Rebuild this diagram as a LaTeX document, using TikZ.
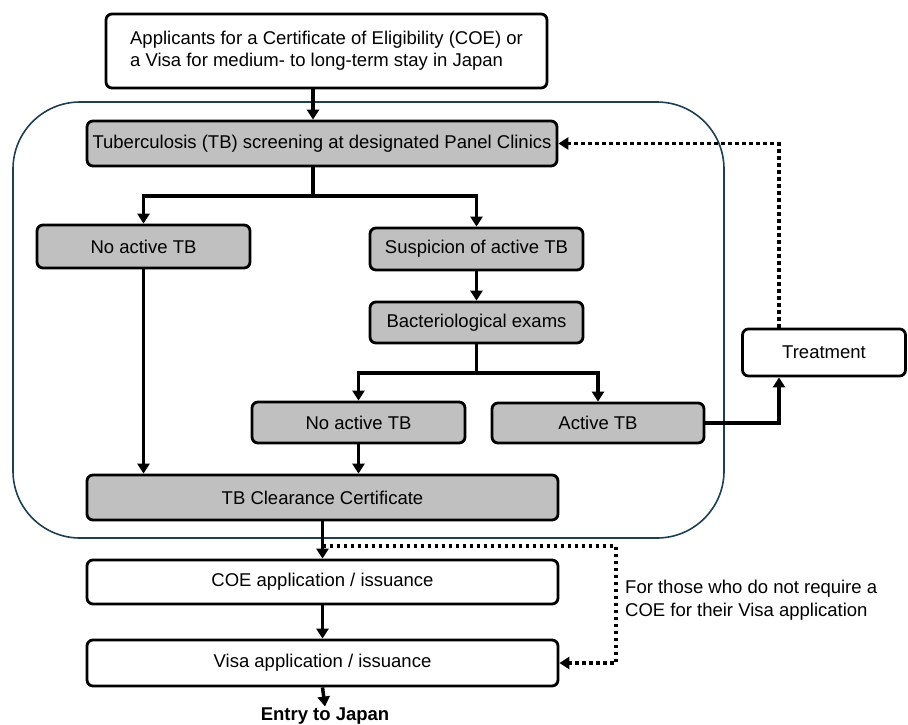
\documentclass[tikz,border=0pt]{standalone}
\usepackage{fontspec}
\setmainfont{Liberation Sans}
\usetikzlibrary{arrows.meta}
\definecolor{boxgray}{HTML}{C0C0C0}
\definecolor{contcol}{HTML}{1E3F52}
\begin{document}
\begin{tikzpicture}[x=1pt,y=-1pt,
  font=\fontsize{18.5}{22}\selectfont,
  box/.style={draw=black, line width=2.8pt, rounded corners=6pt, inner sep=0pt, fill=white},
  gbox/.style={box, fill=boxgray},
  conn/.style={line width=3.5pt},
  arr/.style={line width=3.5pt, -{Triangle[length=10pt,width=12pt]}},
  dotarr/.style={line width=3.8pt, dash pattern=on 3.8pt off 3.2pt, -{Triangle[length=10pt,width=12pt]}},
]
\useasboundingbox (0,0) rectangle (908,724);
% container
\draw[line width=1.6pt, draw=contcol, rounded corners=67pt] (13,102) rectangle (724,538);

% nodes
\node[box, minimum width=441pt, minimum height=74pt, align=left] (top) at (326.5,51) {Applicants for a Certificate of Eligibility (COE) or\\a Visa for medium- to long-term stay in Japan};
\node[gbox, minimum width=470pt, minimum height=45pt] (scr) at (322,143.5) {Tuberculosis (TB) screening at designated Panel Clinics};
\node[gbox, minimum width=213pt, minimum height=43pt] (na1) at (143.5,246.5) {No active TB};
\node[gbox, minimum width=213pt, minimum height=42pt] (sus) at (476.5,249) {Suspicion of active TB};
\node[gbox, minimum width=213pt, minimum height=41pt] (bac) at (476.5,322.5) {Bacteriological exams};
\node[gbox, minimum width=213pt, minimum height=41pt] (na2) at (358.5,422.5) {No active TB};
\node[gbox, minimum width=212pt, minimum height=40pt] (act) at (598,423) {Active TB};
\node[box, minimum width=163pt, minimum height=47pt] (trt) at (824,352.5) {Treatment};
\node[gbox, minimum width=471pt, minimum height=45pt] (clr) at (322.5,497.5) {TB Clearance Certificate};
\node[box, minimum width=471pt, minimum height=44pt] (coe) at (322.5,582) {COE application / issuance};
\node[box, minimum width=471pt, minimum height=46pt] (visa) at (322.5,663) {Visa application / issuance};
\node[font=\fontsize{18.5}{22}\selectfont\bfseries, inner sep=1pt] (entry) at (325,716) {Entry to Japan};
\node[anchor=west, align=left, inner sep=0pt, font=\fontsize{18.5}{23}\selectfont] (lbl) at (625,600) {For those who do not require a\\COE for their Visa application};

% helper coordinates
\coordinate (c313) at (313,0);
\coordinate (j1) at (313,196);
\coordinate (j2) at (476.5,373);
\coordinate (c779) at (779,0);
\coordinate (d1) at (616,546);

% connectors
\draw[arr] (top.south -| c313) -- (scr.north -| c313);
\draw[conn] (scr.south -| j1) -- (j1);
\draw[arr] (j1) -| (na1.north);
\draw[arr] (j1) -| (sus.north);
\draw[arr] (sus.south) -- (bac.north);
\draw[conn] (bac.south) -- (j2);
\draw[arr] (j2) -| (na2.north);
\draw[arr] (j2) -| (act.north);
\draw[arr] (na1.south) -- (na1.south |- clr.north);
\draw[arr] (na2.south) -- (na2.south |- clr.north);
\draw[arr] (act.east) -| (trt.south -| c779);
\draw[dotarr] (trt.north -| c779) |- (scr.east);
\draw[arr] (clr.south) -- (coe.north);
\draw[dotarr] (clr.south |- d1) -- (d1) |- (visa.east);
\draw[arr] (coe.south) -- (visa.north);
\draw[arr] (visa.south) -- (entry.north);
\end{tikzpicture}
\end{document}
